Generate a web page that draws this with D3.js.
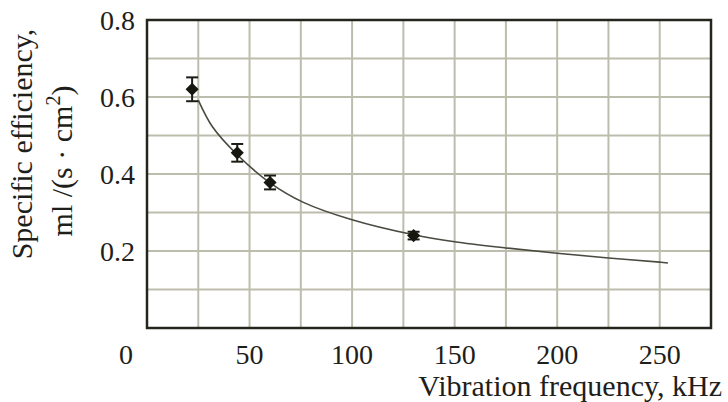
<!DOCTYPE html>
<html>
<head>
<meta charset="utf-8">
<style>
  svg text { font-family: "Times New Roman", Times, serif !important; }
</style>
</head>
<body style="margin:0">
<script src="https://d3js.org/d3.v7.min.js"></script>
<script>
  // measured points (kHz, ml/(s*cm2)) with error half-widths
  const freq = [22, 44, 60, 130];
  const eff = [0.62, 0.455, 0.378, 0.24];
  const errs = [0.031, 0.023, 0.018, 0.01];

  // fitted curve
  const curveFreq = [25, 32, 44, 60, 76, 100, 130, 150, 175, 200, 225, 250, 254];
  const curveEff = [0.592, 0.522, 0.45, 0.377, 0.327, 0.281, 0.242, 0.224, 0.208, 0.194, 0.182, 0.171, 0.169];

  const xTicks = [0, 50, 100, 150, 200, 250];
  const yTicks = [0.2, 0.4, 0.6, 0.8];

  const serif = "Times New Roman";
  const ink = "#1e1e1a";
  const gridColor = "#bdbdad";

  const width = 728, height = 402;
  const margin = {top: 20, right: 17, bottom: 74, left: 147};

  const svg = d3.select("body").append("svg")
    .attr("width", width)
    .attr("height", height);

  const x = d3.scaleLinear().domain([0, 275]).range([margin.left, width - margin.right]);
  const y = d3.scaleLinear().domain([0, 0.8]).range([height - margin.bottom, margin.top]);

  // grid every 25 kHz and every 0.1
  const grid = svg.append("g")
    .attr("stroke", gridColor)
    .attr("stroke-width", 2);
  grid.selectAll("line.v")
    .data(d3.range(25, 275, 25))
    .join("line")
    .attr("x1", d => x(d)).attr("x2", d => x(d))
    .attr("y1", y(0)).attr("y2", y(0.8));
  grid.selectAll("line.h")
    .data(d3.range(1, 8).map(d => d / 10))
    .join("line")
    .attr("x1", x(0)).attr("x2", x(275))
    .attr("y1", d => y(d)).attr("y2", d => y(d));

  svg.append("rect")
    .attr("fill", "none")
    .attr("stroke", "#24251d")
    .attr("stroke-width", 2.5)
    .attr("x", x(0)).attr("y", y(0.8))
    .attr("width", x(275) - x(0))
    .attr("height", y(0) - y(0.8));

  function label(sel, size) {
    return sel.attr("font-family", serif)
      .attr("font-size", size)
      .attr("fill", ink);
  }

  // tick labels
  label(svg.append("g").selectAll("text")
    .data(xTicks)
    .join("text"), 28)
    .attr("text-anchor", "middle")
    .attr("x", d => x(d) + (d === 0 ? -21 : 0))
    .attr("y", y(0) + 36)
    .text(d3.format("d"));

  label(svg.append("g").selectAll("text")
    .data(yTicks)
    .join("text"), 28)
    .attr("text-anchor", "end")
    .attr("x", x(0) - 12)
    .attr("y", d => y(d) + 10)
    .text(d3.format(".1f"));

  // fitted curve
  const line = d3.line()
    .x((d, i) => x(curveFreq[i]))
    .y(d => y(d))
    .curve(d3.curveCatmullRom);
  svg.append("path")
    .attr("fill", "none")
    .attr("stroke", "#4a4a40")
    .attr("stroke-width", 1.6)
    .attr("d", line(curveEff));

  // error bars
  const pts = freq.map((f, i) => ({f: f, v: eff[i], e: errs[i]}));
  const eb = svg.append("g")
    .attr("stroke", "#1c1c16")
    .attr("stroke-width", 2)
    .selectAll("g").data(pts).join("g");
  eb.append("line")
    .attr("x1", d => x(d.f)).attr("x2", d => x(d.f))
    .attr("y1", d => y(d.v - d.e)).attr("y2", d => y(d.v + d.e));
  eb.append("line")
    .attr("x1", d => x(d.f) - 6).attr("x2", d => x(d.f) + 6)
    .attr("y1", d => y(d.v + d.e)).attr("y2", d => y(d.v + d.e));
  eb.append("line")
    .attr("x1", d => x(d.f) - 6).attr("x2", d => x(d.f) + 6)
    .attr("y1", d => y(d.v - d.e)).attr("y2", d => y(d.v - d.e));
  eb.append("path")
    .attr("stroke", "none")
    .attr("transform", d => `translate(${x(d.f)},${y(d.v)})`)
    .attr("d", d3.symbol().type(d3.symbolDiamond2).size(110))
    .attr("fill", "#16170f");

  // axis titles
  label(svg.append("text"), 30)
    .attr("x", 722).attr("y", 396)
    .attr("text-anchor", "end")
    .text("Vibration frequency, kHz");

  label(svg.append("text"), 30)
    .attr("transform", "translate(32,144) rotate(-90)")
    .attr("text-anchor", "middle")
    .text("Specific efficiency,");

  const t2 = label(svg.append("text"), 30)
    .attr("transform", "translate(72,161) rotate(-90)")
    .attr("text-anchor", "middle");
  t2.append("tspan").text("ml /(s \u00B7 cm");
  t2.append("tspan").attr("font-size", 20).attr("dy", -12).text("2");
  t2.append("tspan").attr("dy", 12).text(")");
</script>
</body>
</html>
